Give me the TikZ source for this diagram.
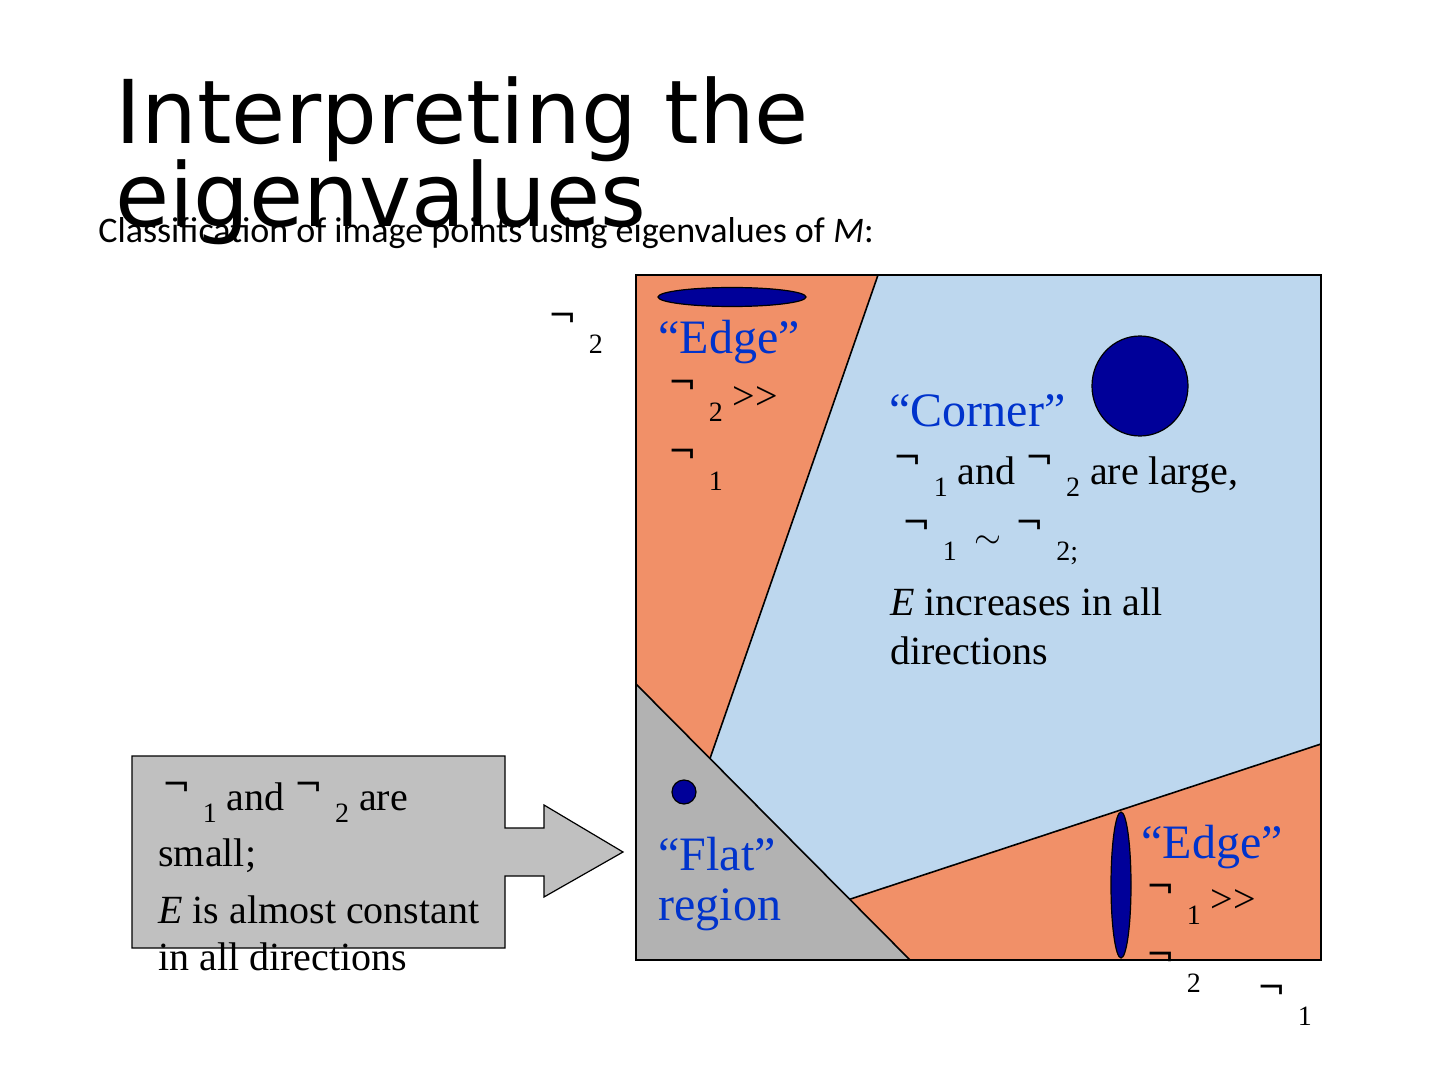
\documentclass[tikz,border=0pt]{standalone}
\usepackage{fontspec}
\setmainfont{Liberation Serif}
\newfontfamily\titlefont{DejaVu Sans}
\newfontfamily\subtfont{Carlito}
\newfontfamily\notfont{DejaVu Sans}
\usetikzlibrary{calc}
\definecolor{edgeorange}{HTML}{F19068}
\definecolor{cornerblue}{HTML}{BDD7EE}
\definecolor{flatgray}{HTML}{B2B2B2}
\definecolor{callgray}{HTML}{C0C0C0}
\definecolor{blobblue}{HTML}{000099}
\definecolor{labelblue}{HTML}{0033CC}
\newcommand\lamsym{\raisebox{7pt}{\notfont\fontsize{17}{17}\selectfont ¬}}
\newcommand\lsub[1]{\raisebox{-6pt}{\fontsize{14}{14}\selectfont #1}}
\newcommand\lam[1]{\lamsym\hspace{6pt}\lsub{#1}}
\newcommand\gtgt{\mbox{>}\mbox{>}}
\begin{document}
\begin{tikzpicture}[x=0.5pt,y=-0.5pt,
  txt/.style={anchor=base west,inner sep=0pt,font=\fontsize{20}{24}\selectfont},
  head/.style={anchor=base west,inner sep=0pt,font=\fontsize{24}{28}\selectfont,text=labelblue},
  blob/.style={fill=blobblue,draw=black,line width=0.6pt},
  region/.style={draw=black,line width=0.8pt}]
\useasboundingbox (0,0) rectangle (1440,1080);
% title
\node[anchor=base west,inner sep=0pt,font=\titlefont\fontsize{44}{44}\selectfont] (t1) at (115,144) {Interpreting the};
\node[anchor=base west,inner sep=0pt,font=\titlefont\fontsize{44}{44}\selectfont] (t2) at (115,227) {eigenvalues};
\node[anchor=base west,inner sep=0pt,font=\subtfont\fontsize{18}{18}\selectfont] (st) at (98,243) {Classification of image points using eigenvalues of \textit{M}:};
% regions
\coordinate (bl) at (636,960);
\coordinate (tr) at (1321,275);
\coordinate (fa) at (636,684);
\coordinate (fb) at (910,960);
\coordinate (ctop) at (878,275);
\coordinate (cright) at (1321,744);
\coordinate (ctip) at ($(fa)!0.27!(fb)$);
\coordinate (clow) at ($(fa)!0.78!(fb)$);
\fill[edgeorange] (bl) rectangle (tr);
\fill[cornerblue] (ctop) -- (tr) -- (cright) -- (clow) -- (ctip) -- cycle;
\draw[region] (ctop) -- (ctip);
\draw[region] (cright) -- (clow);
\fill[flatgray] (fa) -- (fb) -- (bl) -- cycle;
\draw[region] (fa) -- (fb);
\draw[black,line width=1.1pt] (bl) rectangle (tr);
% blobs
\draw[blob] (732,297) ellipse [x radius=37pt,y radius=4.75pt];
\draw[blob] (1140,386) ellipse [x radius=24pt,y radius=25pt];
\draw[blob] (684,792) ellipse [x radius=6pt,y radius=6pt];
\draw[blob] (1121,885) ellipse [x radius=5pt,y radius=36.5pt];
% callout
\draw[fill=callgray,draw=black,line width=0.6pt] (132,756) -- (505,756) -- (505,828) -- (544,828) -- (544,805) -- (623,852) -- (544,897) -- (544,876) -- (505,876) -- (505,948) -- (132,948) -- cycle;
% top edge text
\node[head] (te1) at (658,354) {“Edge”};
\node[txt] (te2) at (668,409) {\lam{2} \gtgt};
\node[txt] (te3) at (668,478) {\lam{1}};
% corner text
\node[head] (tc1) at (889,427) {“Corner”};
\node[txt] (tc2) at (893,484) {\lam{1} and \lam{2} are large,};
\node[txt] (tc3) at (902,548) {\lam{1}\hspace{9pt}{\fontsize{16}{16}\selectfont$\sim$}\hspace{7pt}\lamsym\hspace{6pt}\lsub{2;}};
\node[txt] (tc4) at (890,615) {\textit{E} increases in all};
\node[txt] (tc5) at (890,664) {directions};
% flat text
\node[head] (tf1) at (658,870) {“Flat”};
\node[head] (tf2) at (658,920) {region};
% bottom edge text
\node[head] (tb1) at (1141,858) {“Edge”};
\node[txt] (tb2) at (1146,912) {\lam{1} \gtgt};
\node[txt] (tb3) at (1146,980) {\lam{2}};
% axis labels
\node[txt] (ax2) at (548,342) {\lam{2}};
\node[txt] (ax1) at (1257,1013) {\lam{1}};
% callout text
\node[txt] (cl1) at (162,810) {\lam{1} and \lam{2} are};
\node[txt] (cl2) at (158,866) {small;};
\node[txt] (cl3) at (158,923) {\textit{E} is almost constant};
\node[txt] (cl4) at (158,970) {in all directions};
\end{tikzpicture}
\end{document}
